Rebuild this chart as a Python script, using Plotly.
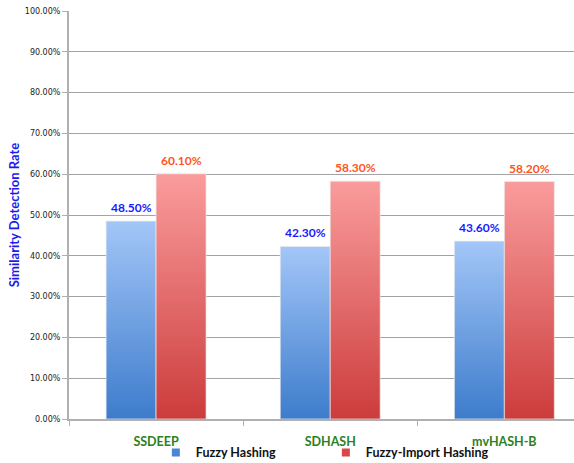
import plotly.graph_objects as go

# Data
categories = ["SSDEEP", "SDHASH", "mvHASH-B"]
series_names = ["Fuzzy Hashing", "Fuzzy-Import Hashing"]
fuzzy_hashing = [0.485, 0.423, 0.436]
fuzzy_import_hashing = [0.601, 0.583, 0.582]
y_ticks = [i / 10 for i in range(11)]

# Styling
BAR_W = 0.287
styles = [
    dict(bottom="#3d7ccc", top="#a3c6f8", legend="#4a86d6", label="#1a1aff", side=-1),
    dict(bottom="#cc3c3c", top="#fa9c9c", legend="#d84848", label="#ff5520", side=1),
]
BOLD = "Lato"

fig = go.Figure()

for values, name, st in zip([fuzzy_hashing, fuzzy_import_hashing], series_names, styles):
    for i, v in enumerate(values):
        if st["side"] < 0:
            x0, x1 = i - BAR_W, i
        else:
            x0, x1 = i, i + BAR_W
        fig.add_trace(go.Scatter(
            x=[x0, x1, x1, x0, x0], y=[0, 0, v, v, 0],
            mode="lines", fill="toself",
            fillgradient=dict(type="vertical",
                              colorscale=[[0, st["bottom"]], [1, st["top"]]]),
            line=dict(width=1, color="rgba(235,235,235,0.7)"),
            legendgroup=name, showlegend=False, hoverinfo="skip",
        ))
        # value label above the bar
        fig.add_annotation(
            x=(x0 + x1) / 2, y=v, text=f"{v * 100:.2f}%",
            showarrow=False, yanchor="bottom", yshift=4,
            font=dict(family=BOLD, size=12, color=st["label"], weight="bold"),
        )
    # legend entry
    fig.add_trace(go.Scatter(
        x=[None], y=[None], mode="markers", name=name,
        marker=dict(symbol="square", size=8, color=st["legend"]),
        legendgroup=name,
    ))

fig.update_layout(
    width=574, height=463,
    margin=dict(l=69, r=0, t=11, b=44, autoexpand=False),
    paper_bgcolor="white", plot_bgcolor="white",
    showlegend=True,
    legend=dict(
        orientation="h", x=0.172, xanchor="left", y=-0.083, yanchor="middle",
        font=dict(family=BOLD, size=12.5, color="#111111", weight="bold"),
        entrywidth=125, entrywidthmode="pixels",
        bgcolor="rgba(0,0,0,0)",
    ),
)

fig.update_xaxes(
    range=[-0.5, 2.4], automargin=False,
    tickmode="array", tickvals=list(range(len(categories))), ticktext=categories,
    ticks="", showgrid=False, zeroline=False,
    showline=True, linecolor="#b0b0b0", linewidth=2,
    tickfont=dict(family=BOLD, size=12.5, color="#2d7f22", weight="bold"),
    ticklabelstandoff=10,
    minor=dict(tickmode="array", tickvals=[-0.5, 0.5, 1.5, 2.5],
               ticks="outside", ticklen=5, tickcolor="#b0b0b0", tickwidth=1,
               showgrid=False),
)

fig.update_yaxes(
    range=[0, 1], tickmode="array", tickvals=y_ticks, automargin=False,
    tickformat=".2%",
    showgrid=True, gridcolor="#a3a3a3", gridwidth=1,
    zeroline=False,
    showline=True, linecolor="#b0b0b0", linewidth=2,
    ticks="outside", ticklen=5, tickcolor="#b0b0b0",
    tickfont=dict(family="DejaVu Sans", size=8, color="#222222"),
    title=dict(text="Similarity Detection Rate",
               font=dict(family=BOLD, size=13, color="#1a1aee", weight="bold"),
               standoff=2),
)

fig.write_html("out.html")
